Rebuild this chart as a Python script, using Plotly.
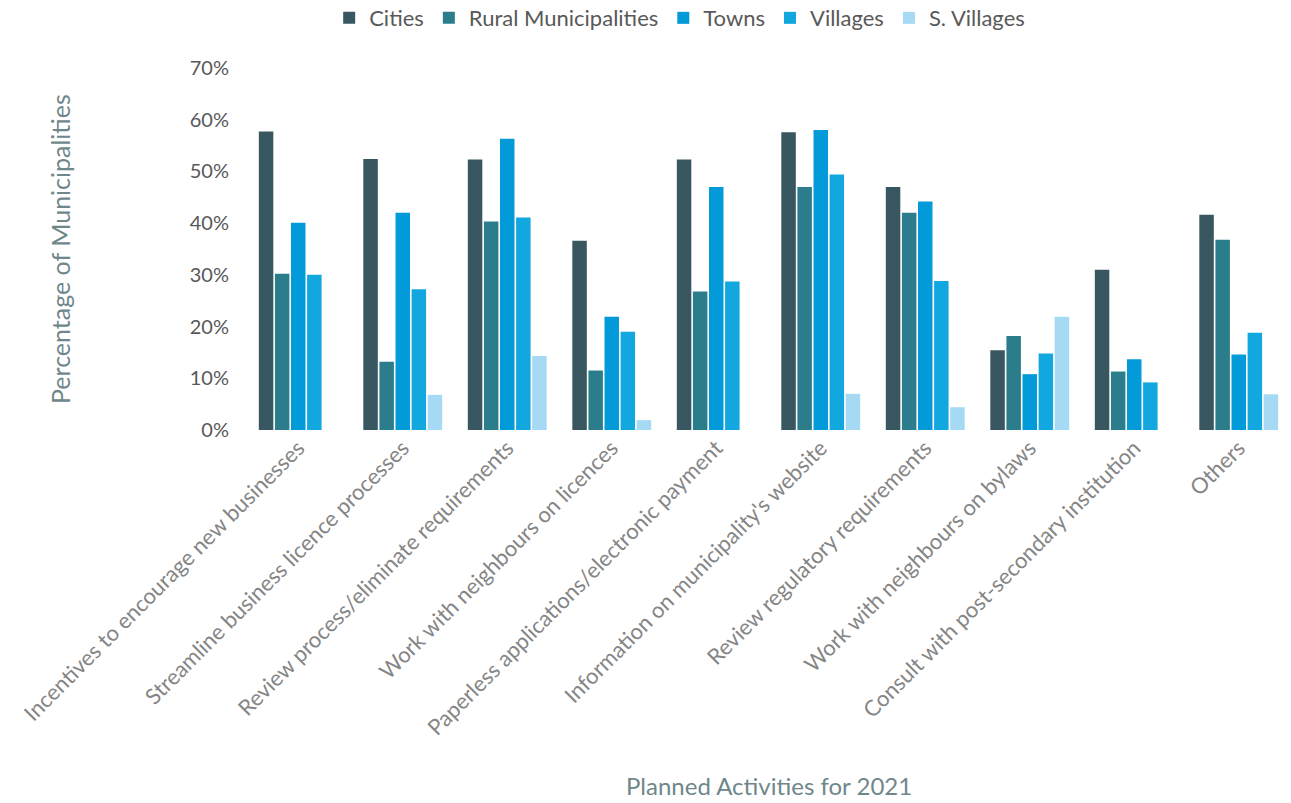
import plotly.graph_objects as go

categories = [
    "Incentives to encourage new businesses",
    "Streamline business licence processes",
    "Review process/eliminate requirements",
    "Work with neighbours on licences",
    "Paperless applications/electronic payment",
    "Information on municipality's website",
    "Review regulatory requirements",
    "Work with neighbours on bylaws",
    "Consult with post-secondary institution",
    "Others",
]

series_names = ["Cities", "Rural Municipalities", "Towns", "Villages", "S. Villages"]

cities = [57.7, 52.4, 52.3, 36.6, 52.3, 57.6, 47.0, 15.4, 31.0, 41.6]
rural_municipalities = [30.2, 13.2, 40.3, 11.5, 26.8, 47.0, 42.0, 18.2, 11.3, 36.8]
towns = [40.1, 42.0, 56.3, 21.9, 47.0, 58.0, 44.2, 10.8, 13.7, 14.6]
villages = [30.0, 27.2, 41.1, 19.0, 28.7, 49.4, 28.8, 14.8, 9.2, 18.8]
s_villages = [0, 6.8, 14.3, 1.9, 0, 7.0, 4.4, 21.9, 0, 6.9]

y_ticks = [0, 10, 20, 30, 40, 50, 60, 70]
y_tick_text = [f"{v}%" for v in y_ticks]

series_values = [cities, rural_municipalities, towns, villages, s_villages]
colors = ["#385760", "#2b7d8b", "#039ad9", "#13a7df", "#a6d9f3"]

fig = go.Figure()
for name, vals, col in zip(series_names, series_values, colors):
    fig.add_trace(go.Bar(name=name, x=categories, y=vals, marker_color=col,
                         marker_line_width=0))

font_family = "Lato, 'Open Sans', sans-serif"
title_color = "#6f878b"

fig.update_layout(
    width=1291,
    height=803,
    barmode="group",
    bargap=0.23,
    bargroupgap=0.1,
    plot_bgcolor="white",
    paper_bgcolor="white",
    margin=dict(l=246, r=0, t=68, b=373, autoexpand=False),
    font=dict(family=font_family, color="#595959"),
    legend=dict(
        orientation="h",
        x=0.415, xanchor="center",
        y=1.138, yanchor="middle",
        font=dict(size=22, color="#595959"),
        itemwidth=30,
        traceorder="normal",
    ),
    xaxis=dict(
        tickangle=-45,
        tickfont=dict(size=22, color="#858585"),
        showgrid=False,
        showline=False,
        ticks="",
        automargin=False,
    ),
    yaxis=dict(
        range=[0, 70],
        tickmode="array",
        tickvals=y_ticks,
        ticktext=y_tick_text,
        tickfont=dict(size=20, color="#595959"),
        showgrid=False,
        zeroline=False,
        showline=False,
        ticks="",
        ticklabelstandoff=16,
        automargin=False,
    ),
    annotations=[
        dict(text="Percentage of Municipalities", xref="paper", yref="paper",
             x=-0.178, y=0.5, xanchor="center", yanchor="middle", textangle=-90,
             showarrow=False, font=dict(size=25, color=title_color, family=font_family)),
        dict(text="Planned Activities for 2021", xref="paper", yref="paper",
             x=0.5, y=-0.982, xanchor="center", yanchor="middle",
             showarrow=False, font=dict(size=24, color=title_color, family=font_family)),
    ],
)

fig.write_html("out.html")
